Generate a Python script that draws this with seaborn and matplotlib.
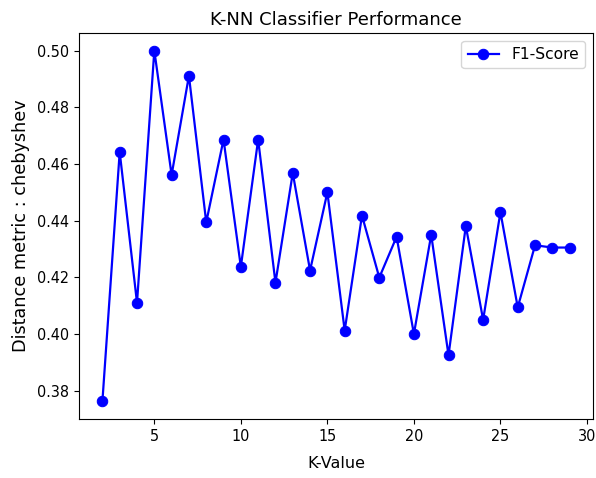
import matplotlib
matplotlib.use("Agg")
import matplotlib.pyplot as plt
import seaborn as sns

# K values and F1 scores
k_values = list(range(2, 30))
f1_scores = [0.3762, 0.4642, 0.4110, 0.5000, 0.4561, 0.4911, 0.4394, 0.4686,
             0.4237, 0.4686, 0.4181, 0.4568, 0.4224, 0.4500, 0.4012, 0.4418,
             0.4199, 0.4343, 0.4000, 0.4350, 0.3925, 0.4381, 0.4050, 0.4430,
             0.4094, 0.4313, 0.4305, 0.4305]

fig = plt.figure(figsize=(5.96, 4.78), dpi=100)
ax = fig.add_axes([0.1326, 0.1234, 0.8624, 0.8076])

sns.lineplot(x=k_values, y=f1_scores, marker='o', color='blue',
             markeredgecolor='blue', markersize=7.5, linewidth=1.6,
             label='F1-Score', ax=ax)

ax.set_title('K-NN Classifier Performance', fontsize=13)
ax.set_xlabel('K-Value', fontsize=11.5, labelpad=9)
ax.set_ylabel('Distance metric : chebyshev', fontsize=12.7, labelpad=5)
for lbl in ax.get_xticklabels() + ax.get_yticklabels():
    lbl.set_fontsize(11.5)
    lbl.set_fontstretch('condensed')
ax.legend(loc='upper right', fontsize=11.2)

plt.savefig('out.png', dpi=100)
plt.close()
